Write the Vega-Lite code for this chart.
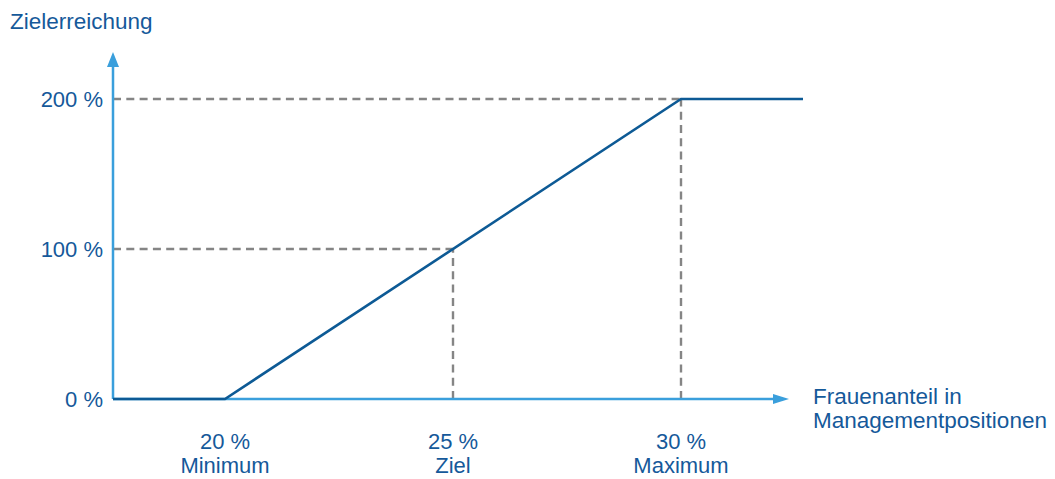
{
  "$schema": "https://vega.github.io/schema/vega-lite/v6.json",
  "width": 1055,
  "height": 479,
  "autosize": "none",
  "padding": 0,
  "background": "white",
  "config": {"view": {"stroke": null}},
  "layer": [
    {
      "data": {"values": [
        {"x1": 17.5439, "x2": 30, "y1": 200, "y2": 200},
        {"x1": 17.5439, "x2": 25, "y1": 100, "y2": 100},
        {"x1": 25, "x2": 25, "y1": 0, "y2": 100},
        {"x1": 30, "x2": 30, "y1": 0, "y2": 200}
      ]},
      "mark": {"type": "rule", "color": "#858585", "strokeWidth": 2.4, "strokeDash": [8, 5.3]},
      "encoding": {
        "x": {"field": "x1", "type": "quantitative", "axis": null, "scale": {"domain": [15.0658, 38.2018], "nice": false, "zero": false}},
        "x2": {"field": "x2"},
        "y": {"field": "y1", "type": "quantitative", "axis": null, "scale": {"domain": [-53.333, 266], "nice": false, "zero": false}},
        "y2": {"field": "y2"}
      }
    },
    {
      "data": {"values": [
        {"x1": 17.5439, "x2": 32.1, "y1": 0, "y2": 0},
        {"x1": 17.5439, "x2": 17.5439, "y1": 0, "y2": 223.5}
      ]},
      "mark": {"type": "rule", "color": "#3a9fdc", "strokeWidth": 2.5},
      "encoding": {
        "x": {"field": "x1", "type": "quantitative", "axis": null, "scale": {"domain": [15.0658, 38.2018], "nice": false, "zero": false}},
        "x2": {"field": "x2"},
        "y": {"field": "y1", "type": "quantitative", "axis": null, "scale": {"domain": [-53.333, 266], "nice": false, "zero": false}},
        "y2": {"field": "y2"}
      }
    },
    {
      "data": {"values": [{"x": 32.193, "y": 0}]},
      "mark": {"type": "point", "shape": "M-1,-0.625L1,0L-1,0.625Z", "filled": true, "opacity": 1, "color": "#3a9fdc", "size": 256},
      "encoding": {
        "x": {"field": "x", "type": "quantitative", "axis": null, "scale": {"domain": [15.0658, 38.2018], "nice": false, "zero": false}},
        "y": {"field": "y", "type": "quantitative", "axis": null, "scale": {"domain": [-53.333, 266], "nice": false, "zero": false}}
      }
    },
    {
      "data": {"values": [{"x": 17.5439, "y": 226.3}]},
      "mark": {"type": "point", "shape": "M-0.8,1L0,-1L0.8,1Z", "filled": true, "opacity": 1, "color": "#3a9fdc", "size": 225},
      "encoding": {
        "x": {"field": "x", "type": "quantitative", "axis": null, "scale": {"domain": [15.0658, 38.2018], "nice": false, "zero": false}},
        "y": {"field": "y", "type": "quantitative", "axis": null, "scale": {"domain": [-53.333, 266], "nice": false, "zero": false}}
      }
    },
    {
      "data": {"values": [
        {"anteil": 17.5439, "erreichung": 0},
        {"anteil": 20, "erreichung": 0},
        {"anteil": 30, "erreichung": 200},
        {"anteil": 32.6754, "erreichung": 200}
      ]},
      "mark": {"type": "line", "color": "#0d5a95", "strokeWidth": 2.6},
      "encoding": {
        "x": {"field": "anteil", "type": "quantitative", "axis": null, "scale": {"domain": [15.0658, 38.2018], "nice": false, "zero": false}},
        "y": {"field": "erreichung", "type": "quantitative", "axis": null, "scale": {"domain": [-53.333, 266], "nice": false, "zero": false}}
      }
    },
    {
      "data": {"values": [
        {"x": 17.325, "y": 194.667, "label": "200 %"},
        {"x": 17.325, "y": 94.667, "label": "100 %"},
        {"x": 17.325, "y": -5.333, "label": "0 %"}
      ]},
      "mark": {"type": "text", "align": "right", "baseline": "alphabetic", "font": "Liberation Sans", "fontSize": 22, "color": "#15599a"},
      "encoding": {
        "x": {"field": "x", "type": "quantitative", "axis": null, "scale": {"domain": [15.0658, 38.2018], "nice": false, "zero": false}},
        "y": {"field": "y", "type": "quantitative", "axis": null, "scale": {"domain": [-53.333, 266], "nice": false, "zero": false}},
        "text": {"field": "label"}
      }
    },
    {
      "data": {"values": [
        {"x": 20, "y": -33.333, "label": "20 %"},
        {"x": 20, "y": -49.333, "label": "Minimum"},
        {"x": 25, "y": -33.333, "label": "25 %"},
        {"x": 25, "y": -49.333, "label": "Ziel"},
        {"x": 30, "y": -33.333, "label": "30 %"},
        {"x": 30, "y": -49.333, "label": "Maximum"}
      ]},
      "mark": {"type": "text", "align": "center", "baseline": "alphabetic", "font": "Liberation Sans", "fontSize": 22, "color": "#15599a"},
      "encoding": {
        "x": {"field": "x", "type": "quantitative", "axis": null, "scale": {"domain": [15.0658, 38.2018], "nice": false, "zero": false}},
        "y": {"field": "y", "type": "quantitative", "axis": null, "scale": {"domain": [-53.333, 266], "nice": false, "zero": false}},
        "text": {"field": "label"}
      }
    },
    {
      "data": {"values": [
        {"x": 15.285, "y": 246.667, "label": "Zielerreichung"},
        {"x": 32.895, "y": -3.333, "label": "Frauenanteil in"},
        {"x": 32.895, "y": -19.333, "label": "Managementpositionen"}
      ]},
      "mark": {"type": "text", "align": "left", "baseline": "alphabetic", "font": "Liberation Sans", "fontSize": 22.5, "color": "#15599a"},
      "encoding": {
        "x": {"field": "x", "type": "quantitative", "axis": null, "scale": {"domain": [15.0658, 38.2018], "nice": false, "zero": false}},
        "y": {"field": "y", "type": "quantitative", "axis": null, "scale": {"domain": [-53.333, 266], "nice": false, "zero": false}},
        "text": {"field": "label"}
      }
    }
  ]
}
